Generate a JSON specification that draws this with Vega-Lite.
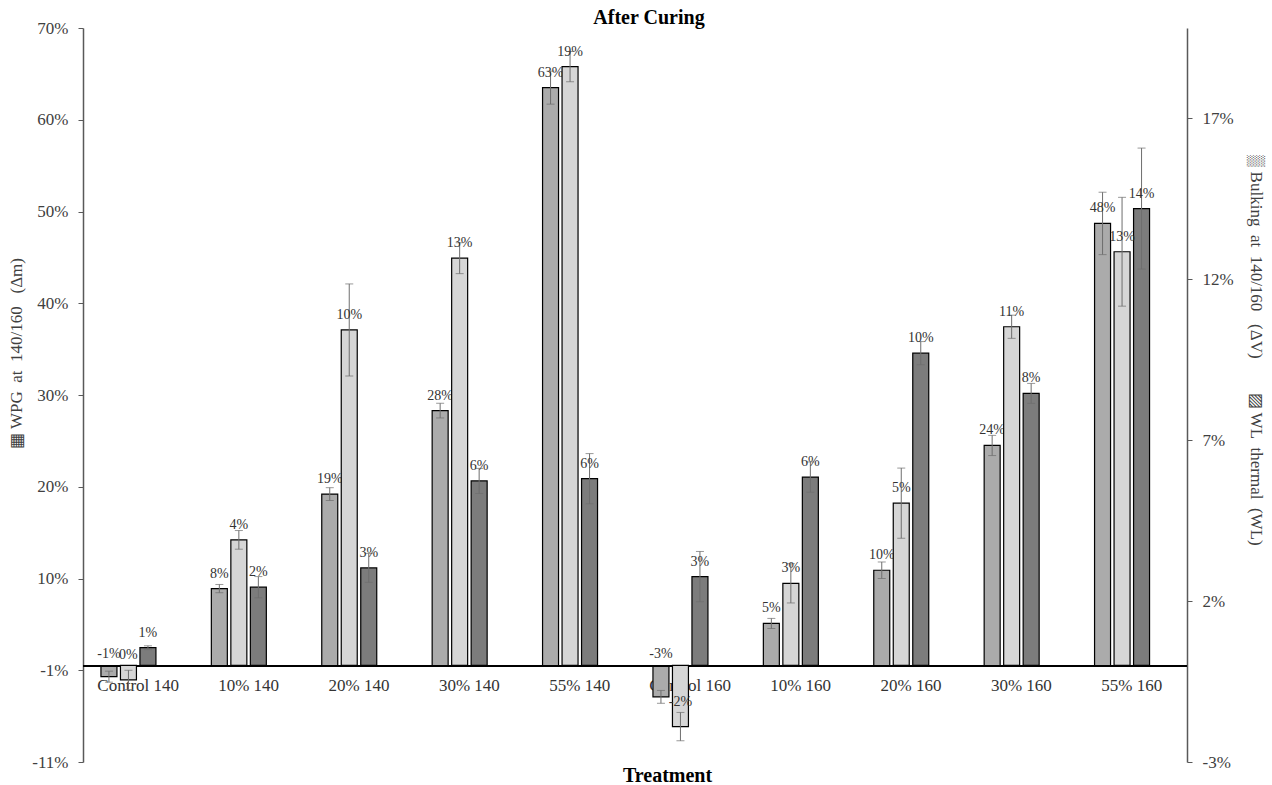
{
  "$schema": "https://vega.github.io/schema/vega-lite/v6.json",
  "width": 1104,
  "height": 734,
  "autosize": {"type": "none"},
  "padding": {"left": 83, "top": 28, "right": 85, "bottom": 23},
  "background": "white",
  "config": {"view": {"stroke": null}, "font": "Liberation Serif"},
  "title": {"text": "After Curing", "font": "Liberation Serif", "fontSize": 20, "fontWeight": "bold", "color": "#000000", "dx": 14, "offset": -9},
  "data": {"values": [
    {"cat": "Control 140", "series": "WPG", "value": -0.012, "lo": -0.018, "hi": -0.006, "label": "-1%"},
    {"cat": "10% 140", "series": "WPG", "value": 0.084, "lo": 0.0795, "hi": 0.0885, "label": "8%"},
    {"cat": "20% 140", "series": "WPG", "value": 0.187, "lo": 0.180, "hi": 0.194, "label": "19%"},
    {"cat": "30% 140", "series": "WPG", "value": 0.278, "lo": 0.270, "hi": 0.286, "label": "28%"},
    {"cat": "55% 140", "series": "WPG", "value": 0.630, "lo": 0.612, "hi": 0.648, "label": "63%"},
    {"cat": "Control 160", "series": "WPG", "value": -0.034, "lo": -0.041, "hi": -0.027, "label": "-3%"},
    {"cat": "10% 160", "series": "WPG", "value": 0.046, "lo": 0.0405, "hi": 0.0515, "label": "5%"},
    {"cat": "20% 160", "series": "WPG", "value": 0.104, "lo": 0.095, "hi": 0.113, "label": "10%"},
    {"cat": "30% 160", "series": "WPG", "value": 0.240, "lo": 0.229, "hi": 0.251, "label": "24%"},
    {"cat": "55% 160", "series": "WPG", "value": 0.482, "lo": 0.448, "hi": 0.516, "label": "48%"},
    {"cat": "Control 140", "series": "Bulking", "value": -0.0045, "lo": -0.0075, "hi": -0.0015, "label": "0%"},
    {"cat": "10% 140", "series": "Bulking", "value": 0.039, "lo": 0.0361, "hi": 0.0419, "label": "4%"},
    {"cat": "20% 140", "series": "Bulking", "value": 0.1042, "lo": 0.0899, "hi": 0.1185, "label": "10%"},
    {"cat": "30% 140", "series": "Bulking", "value": 0.1265, "lo": 0.1217, "hi": 0.1313, "label": "13%"},
    {"cat": "55% 140", "series": "Bulking", "value": 0.186, "lo": 0.1813, "hi": 0.1907, "label": "19%"},
    {"cat": "Control 160", "series": "Bulking", "value": -0.019, "lo": -0.0234, "hi": -0.0146, "label": "-2%"},
    {"cat": "10% 160", "series": "Bulking", "value": 0.0255, "lo": 0.0194, "hi": 0.0316, "label": "3%"},
    {"cat": "20% 160", "series": "Bulking", "value": 0.0504, "lo": 0.0395, "hi": 0.0613, "label": "5%"},
    {"cat": "30% 160", "series": "Bulking", "value": 0.1052, "lo": 0.1016, "hi": 0.1088, "label": "11%"},
    {"cat": "55% 160", "series": "Bulking", "value": 0.1285, "lo": 0.1116, "hi": 0.1454, "label": "13%"},
    {"cat": "Control 140", "series": "WL", "value": 0.0055, "lo": 0.0049, "hi": 0.0061, "label": "1%"},
    {"cat": "10% 140", "series": "WL", "value": 0.0243, "lo": 0.021, "hi": 0.0276, "label": "2%"},
    {"cat": "20% 140", "series": "WL", "value": 0.0303, "lo": 0.0258, "hi": 0.0348, "label": "3%"},
    {"cat": "30% 140", "series": "WL", "value": 0.0573, "lo": 0.0534, "hi": 0.0612, "label": "6%"},
    {"cat": "55% 140", "series": "WL", "value": 0.058, "lo": 0.0502, "hi": 0.0658, "label": "6%"},
    {"cat": "Control 160", "series": "WL", "value": 0.0276, "lo": 0.0198, "hi": 0.0354, "label": "3%"},
    {"cat": "10% 160", "series": "WL", "value": 0.0585, "lo": 0.0538, "hi": 0.0632, "label": "6%"},
    {"cat": "20% 160", "series": "WL", "value": 0.097, "lo": 0.0934, "hi": 0.1006, "label": "10%"},
    {"cat": "30% 160", "series": "WL", "value": 0.0845, "lo": 0.0814, "hi": 0.0876, "label": "8%"},
    {"cat": "55% 160", "series": "WL", "value": 0.1419, "lo": 0.1231, "hi": 0.1607, "label": "14%"}
  ]},
  "layer": [
    {
      "transform": [{"filter": "datum.series === 'WPG'"}],
      "layer": [
        {
          "mark": {"type": "text", "font": "Liberation Serif", "fontSize": 17, "color": "#333333", "baseline": "middle", "dy": 20},
          "encoding": {
            "x": {"field": "cat", "type": "nominal", "sort": ["Control 140", "10% 140", "20% 140", "30% 140", "55% 140", "Control 160", "10% 160", "20% 160", "30% 160", "55% 160"], "scale": {"paddingInner": 0.2935, "paddingOuter": 0.1467},
                  "axis": {"title": "Treatment", "labels": false, "ticks": false, "domain": false, "titleFont": "Liberation Serif", "titleFontSize": 20, "titleFontWeight": "bold", "titleColor": "#000000", "titleX": 584, "titleY": 13, "titleBaseline": "middle"}},
            "y": {"datum": 0, "type": "quantitative", "scale": {"domain": [-0.105, 0.695], "nice": false, "zero": false},
                  "axis": {"orient": "left", "grid": false, "values": [-0.105, -0.005, 0.095, 0.195, 0.295, 0.395, 0.495, 0.595, 0.695],
                           "labelExpr": "replace(format(datum.value < 0 ? datum.value - 0.0001 : datum.value + 0.0001, '.0%'), '\u2212', '-')",
                           "labelFont": "Liberation Serif", "labelFontSize": 17, "labelColor": "#404040", "labelPadding": 10,
                           "domainColor": "#595959", "domainWidth": 1.5, "tickColor": "#595959", "tickSize": 5,
                           "title": "\u25a6 WPG\u00a0 at\u00a0 140/160\u00a0\u00a0 (\u0394m)", "titleFont": "Liberation Serif", "titleFontSize": 17, "titleFontWeight": "normal", "titleColor": "#404040",
                           "titleX": -67, "titleY": 325, "titleAngle": 270, "titleAlign": "center", "titleBaseline": "middle"}},
            "text": {"field": "cat"}
          }
        },
        {
          "mark": {"type": "bar", "fill": "#ababab", "stroke": "#000000", "strokeWidth": 1.2},
          "encoding": {
            "x": {"field": "cat", "type": "nominal", "sort": ["Control 140", "10% 140", "20% 140", "30% 140", "55% 140", "Control 160", "10% 160", "20% 160", "30% 160", "55% 160"], "scale": {"paddingInner": 0.2935, "paddingOuter": 0.1467}},
            "xOffset": {"field": "series", "type": "nominal", "sort": ["WPG", "Bulking", "WL", "pad"], "scale": {"domain": ["WPG", "Bulking", "WL", "pad"], "paddingInner": 0.18, "paddingOuter": 0.09}},
            "y": {"field": "value", "type": "quantitative", "scale": {"domain": [-0.105, 0.695], "nice": false, "zero": false}},
            "y2": {"datum": 0}
          }
        },
        {
          "mark": {"type": "rule", "color": "#6e6e6e", "strokeWidth": 1},
          "encoding": {
            "x": {"field": "cat", "type": "nominal", "sort": ["Control 140", "10% 140", "20% 140", "30% 140", "55% 140", "Control 160", "10% 160", "20% 160", "30% 160", "55% 160"], "scale": {"paddingInner": 0.2935, "paddingOuter": 0.1467}},
            "xOffset": {"field": "series", "type": "nominal", "sort": ["WPG", "Bulking", "WL", "pad"], "scale": {"domain": ["WPG", "Bulking", "WL", "pad"], "paddingInner": 0.18, "paddingOuter": 0.09}},
            "y": {"field": "lo", "type": "quantitative", "scale": {"domain": [-0.105, 0.695], "nice": false, "zero": false}},
            "y2": {"field": "hi"}
          }
        },
        {
          "mark": {"type": "tick", "orient": "horizontal", "size": 8, "thickness": 1, "color": "#6e6e6e"},
          "encoding": {
            "x": {"field": "cat", "type": "nominal", "sort": ["Control 140", "10% 140", "20% 140", "30% 140", "55% 140", "Control 160", "10% 160", "20% 160", "30% 160", "55% 160"], "scale": {"paddingInner": 0.2935, "paddingOuter": 0.1467}},
            "xOffset": {"field": "series", "type": "nominal", "sort": ["WPG", "Bulking", "WL", "pad"], "scale": {"domain": ["WPG", "Bulking", "WL", "pad"], "paddingInner": 0.18, "paddingOuter": 0.09}},
            "y": {"field": "hi", "type": "quantitative", "scale": {"domain": [-0.105, 0.695], "nice": false, "zero": false}}
          }
        },
        {
          "mark": {"type": "tick", "orient": "horizontal", "size": 8, "thickness": 1, "color": "#6e6e6e"},
          "encoding": {
            "x": {"field": "cat", "type": "nominal", "sort": ["Control 140", "10% 140", "20% 140", "30% 140", "55% 140", "Control 160", "10% 160", "20% 160", "30% 160", "55% 160"], "scale": {"paddingInner": 0.2935, "paddingOuter": 0.1467}},
            "xOffset": {"field": "series", "type": "nominal", "sort": ["WPG", "Bulking", "WL", "pad"], "scale": {"domain": ["WPG", "Bulking", "WL", "pad"], "paddingInner": 0.18, "paddingOuter": 0.09}},
            "y": {"field": "lo", "type": "quantitative", "scale": {"domain": [-0.105, 0.695], "nice": false, "zero": false}}
          }
        },
        {
          "transform": [{"filter": "datum.value >= 0"}],
          "mark": {"type": "text", "font": "Liberation Serif", "fontSize": 14, "color": "#333333", "baseline": "middle", "dy": -15},
          "encoding": {
            "x": {"field": "cat", "type": "nominal", "sort": ["Control 140", "10% 140", "20% 140", "30% 140", "55% 140", "Control 160", "10% 160", "20% 160", "30% 160", "55% 160"], "scale": {"paddingInner": 0.2935, "paddingOuter": 0.1467}},
            "xOffset": {"field": "series", "type": "nominal", "sort": ["WPG", "Bulking", "WL", "pad"], "scale": {"domain": ["WPG", "Bulking", "WL", "pad"], "paddingInner": 0.18, "paddingOuter": 0.09}},
            "y": {"field": "value", "type": "quantitative", "scale": {"domain": [-0.105, 0.695], "nice": false, "zero": false}},
            "text": {"field": "label"}
          }
        },
        {
          "transform": [{"filter": "datum.value < 0"}],
          "mark": {"type": "text", "font": "Liberation Serif", "fontSize": 14, "color": "#333333", "baseline": "middle", "dy": -12},
          "encoding": {
            "x": {"field": "cat", "type": "nominal", "sort": ["Control 140", "10% 140", "20% 140", "30% 140", "55% 140", "Control 160", "10% 160", "20% 160", "30% 160", "55% 160"], "scale": {"paddingInner": 0.2935, "paddingOuter": 0.1467}},
            "xOffset": {"field": "series", "type": "nominal", "sort": ["WPG", "Bulking", "WL", "pad"], "scale": {"domain": ["WPG", "Bulking", "WL", "pad"], "paddingInner": 0.18, "paddingOuter": 0.09}},
            "y": {"datum": 0, "type": "quantitative", "scale": {"domain": [-0.105, 0.695], "nice": false, "zero": false}},
            "text": {"field": "label"}
          }
        },
        {
          "mark": {"type": "rule", "color": "#000000", "strokeWidth": 1.5},
          "encoding": {
            "y": {"datum": 0, "type": "quantitative", "scale": {"domain": [-0.105, 0.695], "nice": false, "zero": false}}
          }
        }
      ]
    },
    {
      "transform": [{"filter": "datum.series !== 'WPG'"}],
      "layer": [
        {
          "mark": {"type": "bar", "stroke": "#000000", "strokeWidth": 1.2},
          "encoding": {
            "x": {"field": "cat", "type": "nominal", "sort": ["Control 140", "10% 140", "20% 140", "30% 140", "55% 140", "Control 160", "10% 160", "20% 160", "30% 160", "55% 160"], "scale": {"paddingInner": 0.2935, "paddingOuter": 0.1467}},
            "xOffset": {"field": "series", "type": "nominal", "sort": ["WPG", "Bulking", "WL", "pad"], "scale": {"domain": ["WPG", "Bulking", "WL", "pad"], "paddingInner": 0.18, "paddingOuter": 0.09}},
            "y": {"field": "value", "type": "quantitative", "scale": {"domain": [-0.03, 0.198], "nice": false, "zero": false},
                  "axis": {"orient": "right", "grid": false, "values": [-0.03, 0.02, 0.07, 0.12, 0.17],
                           "labelExpr": "replace(format(datum.value, '.0%'), '\u2212', '-')",
                           "labelFont": "Liberation Serif", "labelFontSize": 17, "labelColor": "#404040", "labelPadding": 10,
                           "domainColor": "#595959", "domainWidth": 1.5, "tickColor": "#595959", "tickSize": 5,
                           "title": "\u2592 Bulking\u00a0 at\u00a0 140/160\u00a0\u00a0 (\u0394V)\u00a0\u00a0\u00a0\u00a0\u00a0\u00a0\u00a0 \u25a8 WL\u00a0 thermal\u00a0 (WL)", "titleFont": "Liberation Serif", "titleFontSize": 17, "titleFontWeight": "normal", "titleColor": "#404040",
                           "titleX": 68, "titleY": 322, "titleAngle": 90, "titleAlign": "center", "titleBaseline": "middle"}},
            "y2": {"datum": 0},
            "fill": {"field": "series", "type": "nominal", "scale": {"domain": ["WPG", "Bulking", "WL"], "range": ["#ababab", "#d6d6d6", "#7c7c7c"]}, "legend": null}
          }
        },
        {
          "mark": {"type": "rule", "color": "#6e6e6e", "strokeWidth": 1},
          "encoding": {
            "x": {"field": "cat", "type": "nominal", "sort": ["Control 140", "10% 140", "20% 140", "30% 140", "55% 140", "Control 160", "10% 160", "20% 160", "30% 160", "55% 160"], "scale": {"paddingInner": 0.2935, "paddingOuter": 0.1467}},
            "xOffset": {"field": "series", "type": "nominal", "sort": ["WPG", "Bulking", "WL", "pad"], "scale": {"domain": ["WPG", "Bulking", "WL", "pad"], "paddingInner": 0.18, "paddingOuter": 0.09}},
            "y": {"field": "lo", "type": "quantitative", "scale": {"domain": [-0.03, 0.198], "nice": false, "zero": false}},
            "y2": {"field": "hi"}
          }
        },
        {
          "mark": {"type": "tick", "orient": "horizontal", "size": 8, "thickness": 1, "color": "#6e6e6e"},
          "encoding": {
            "x": {"field": "cat", "type": "nominal", "sort": ["Control 140", "10% 140", "20% 140", "30% 140", "55% 140", "Control 160", "10% 160", "20% 160", "30% 160", "55% 160"], "scale": {"paddingInner": 0.2935, "paddingOuter": 0.1467}},
            "xOffset": {"field": "series", "type": "nominal", "sort": ["WPG", "Bulking", "WL", "pad"], "scale": {"domain": ["WPG", "Bulking", "WL", "pad"], "paddingInner": 0.18, "paddingOuter": 0.09}},
            "y": {"field": "hi", "type": "quantitative", "scale": {"domain": [-0.03, 0.198], "nice": false, "zero": false}}
          }
        },
        {
          "mark": {"type": "tick", "orient": "horizontal", "size": 8, "thickness": 1, "color": "#6e6e6e"},
          "encoding": {
            "x": {"field": "cat", "type": "nominal", "sort": ["Control 140", "10% 140", "20% 140", "30% 140", "55% 140", "Control 160", "10% 160", "20% 160", "30% 160", "55% 160"], "scale": {"paddingInner": 0.2935, "paddingOuter": 0.1467}},
            "xOffset": {"field": "series", "type": "nominal", "sort": ["WPG", "Bulking", "WL", "pad"], "scale": {"domain": ["WPG", "Bulking", "WL", "pad"], "paddingInner": 0.18, "paddingOuter": 0.09}},
            "y": {"field": "lo", "type": "quantitative", "scale": {"domain": [-0.03, 0.198], "nice": false, "zero": false}}
          }
        },
        {
          "transform": [{"filter": "datum.value >= 0"}],
          "mark": {"type": "text", "font": "Liberation Serif", "fontSize": 14, "color": "#333333", "baseline": "middle", "dy": -15},
          "encoding": {
            "x": {"field": "cat", "type": "nominal", "sort": ["Control 140", "10% 140", "20% 140", "30% 140", "55% 140", "Control 160", "10% 160", "20% 160", "30% 160", "55% 160"], "scale": {"paddingInner": 0.2935, "paddingOuter": 0.1467}},
            "xOffset": {"field": "series", "type": "nominal", "sort": ["WPG", "Bulking", "WL", "pad"], "scale": {"domain": ["WPG", "Bulking", "WL", "pad"], "paddingInner": 0.18, "paddingOuter": 0.09}},
            "y": {"field": "value", "type": "quantitative", "scale": {"domain": [-0.03, 0.198], "nice": false, "zero": false}},
            "text": {"field": "label"}
          }
        },
        {
          "transform": [{"filter": "datum.value < 0"}],
          "mark": {"type": "text", "font": "Liberation Serif", "fontSize": 14, "color": "#333333", "baseline": "middle", "dy": -25},
          "encoding": {
            "x": {"field": "cat", "type": "nominal", "sort": ["Control 140", "10% 140", "20% 140", "30% 140", "55% 140", "Control 160", "10% 160", "20% 160", "30% 160", "55% 160"], "scale": {"paddingInner": 0.2935, "paddingOuter": 0.1467}},
            "xOffset": {"field": "series", "type": "nominal", "sort": ["WPG", "Bulking", "WL", "pad"], "scale": {"domain": ["WPG", "Bulking", "WL", "pad"], "paddingInner": 0.18, "paddingOuter": 0.09}},
            "y": {"field": "value", "type": "quantitative", "scale": {"domain": [-0.03, 0.198], "nice": false, "zero": false}},
            "text": {"field": "label"}
          }
        }
      ]
    }
  ],
  "resolve": {"scale": {"y": "independent"}}
}
